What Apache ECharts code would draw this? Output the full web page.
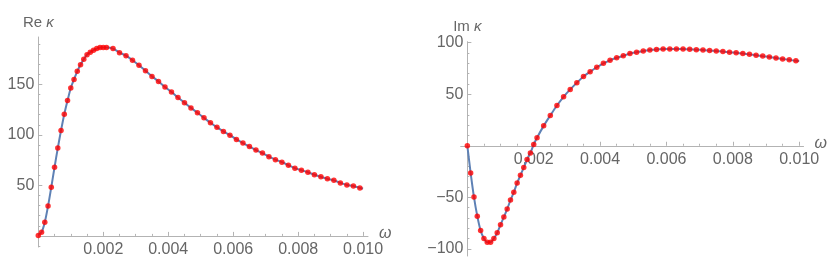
<!DOCTYPE html>
<html>
<head>
<meta charset="utf-8">
<script src="https://cdn.jsdelivr.net/npm/echarts@6/dist/echarts.min.js"></script>
<style>html,body{margin:0;padding:0;background:#fff}#c{width:830px;height:273px}</style>
</head>
<body>
<div id="c"></div>
<script>
// sample frequencies (ω) of the data points
const omega = [0,0.0001,0.0002,0.0003,0.0004,0.0005,0.0006,0.0007,0.0008,0.0009,0.0010,
  0.0011,0.0012,0.0013,0.0014,0.0015,0.0016,0.0017,0.0018,0.0019,0.0020,0.0021,
  0.0023,0.0025,0.0027,0.0029,0.0031,0.0033,0.0035,0.0037,0.0039,0.0041,0.0043,0.0045,
  0.0047,0.0049,0.0051,0.0053,0.0055,0.0057,0.0059,0.0061,0.0063,0.0065,0.0067,0.0069,
  0.0071,0.0073,0.0075,0.0077,0.0079,0.0081,0.0083,0.0085,0.0087,0.0089,0.0091,0.0093,
  0.0095,0.0097,0.0099];
const reKappa = [0.5,3.7,13.6,29.5,48.3,68,87,104.5,120.5,134,146.5,
  155,163,169.5,175,179.5,182,184,185.5,186.5,186.5,186.5,
  185.5,181.5,178.5,174,169,163.5,158,153,147.5,142.5,137,132,
  126.8,122,117,112,107.5,103.5,99.8,95.5,92,88.5,85,82,
  78.5,75.5,73,70,67,65,63,60.5,58.5,56.5,55,52.5,
  50.5,49.5,47.5];
const imKappa = [0,-26.5,-49.8,-68.3,-82.2,-90,-93.6,-93.6,-90,-84.5,-76.7,
  -69.2,-61.5,-52.7,-45.2,-36.2,-28.7,-21.2,-13.4,-7,1.2,7.8,
  19.3,29.4,39.1,47.5,54.7,61.1,67.2,71.8,76.2,80,82.9,85.4,
  87.3,89.5,90.8,92,92.9,93.5,93.8,93.9,93.9,93.8,93.6,93.3,
  92.9,92.5,91.9,91.4,90.8,90.2,89.5,88.7,87.9,87.0,86.1,85.2,
  84.3,83.4,82.5];
// curve end point (the fitted curve runs to ω = 0.01)
const curveEnd = {omega: 0.01, re: 47, im: 82.2};

// tick labels
const xMajorTicks = [0.002,0.004,0.006,0.008,0.010];
const reMajorTicks = [50,100,150];
const imMajorTicks = [-100,-50,50,100];

function minorList(from, to, step, majors) {
  const out = [];
  const n = Math.round((to - from) / step);
  for (let i = 0; i <= n; i++) {
    const v = +(from + i * step).toFixed(6);
    if (v === 0) continue;
    if (majors.some(m => Math.abs(m - v) < step / 10)) continue;
    out.push(v);
  }
  return out;
}
const xMinor = minorList(0.0005, 0.01, 0.0005, xMajorTicks);
const reMinor = minorList(-10, 190, 10, reMajorTicks);
const imMinor = minorList(-100, 100, 10, imMajorTicks);

const reDots = omega.map((w, i) => [w, reKappa[i]]);
const imDots = omega.map((w, i) => [w, imKappa[i]]);
const reCurve = reDots.concat([[curveEnd.omega, curveEnd.re]]);
const imCurve = imDots.concat([[curveEnd.omega, curveEnd.im]]);

const FONT = 'Liberation Sans';
const AX = '#b3b3b3';
const LBL = '#666666';

const grids = [
  {left: 38.3, top: 37, width: 329.7, height: 210, xMin: 0, xMax: 0.01015, yMin: -11, yMax: 197},
  {left: 460.7, top: 41.7, width: 344.3, height: 214.3, xMin: -0.0002, xMax: 0.01013, yMin: -107, yMax: 101}
];
// place axes through the origin via offsets (pixel distance from grid edge to the zero line)
function xOffset(g) { return -(g.height * (0 - g.yMin) / (g.yMax - g.yMin)); }
function yOffset(g) { return -(g.width * (0 - g.xMin) / (g.xMax - g.xMin)); }

function xAxes(gi) {
  const g = grids[gi];
  const base = {
    type: 'value', gridIndex: gi, min: g.xMin, max: g.xMax, position: 'bottom', offset: xOffset(g),
    splitLine: {show: false},
    axisLine: {show: true, onZero: false, lineStyle: {color: AX, width: 1}},
  };
  return [
    Object.assign({}, base, {
      name: 'ω', nameLocation: 'end', nameGap: 11,
      nameTextStyle: {fontFamily: FONT, fontSize: 16, fontStyle: 'italic', color: LBL, verticalAlign: 'bottom', padding: [0,0,-6,0]},
      axisTick: {show: true, inside: true, length: 4, customValues: xMajorTicks, lineStyle: {color: AX}},
      axisLabel: {show: true, customValues: xMajorTicks, margin: 6, color: LBL, fontFamily: FONT, fontSize: 16,
        formatter: v => v.toFixed(3)},
    }),
    Object.assign({}, base, {
      axisLine: {show: false, onZero: false},
      axisTick: {show: true, inside: true, length: 2, customValues: xMinor, lineStyle: {color: AX}},
      axisLabel: {show: false},
    })
  ];
}
function yAxes(gi, majors, minors, title) {
  const g = grids[gi];
  const base = {
    type: 'value', gridIndex: gi, min: g.yMin, max: g.yMax, position: 'left', offset: yOffset(g),
    splitLine: {show: false},
    axisLine: {show: true, onZero: false, lineStyle: {color: AX, width: 1}},
  };
  return [
    Object.assign({}, base, {
      name: title, nameLocation: 'end', nameGap: 7,
      nameTextStyle: {fontFamily: FONT, fontSize: 15, color: LBL, align: 'center',
        rich: {r: {fontFamily: FONT, fontSize: 15, color: LBL}, i: {fontFamily: FONT, fontSize: 15, color: LBL, fontStyle: 'italic'}}},
      axisTick: {show: true, inside: true, length: 4, customValues: majors, lineStyle: {color: AX}},
      axisLabel: {show: true, customValues: majors, margin: 4, color: LBL, fontFamily: FONT, fontSize: 16,
        formatter: v => String(v).replace('-', '\u2212')},
    }),
    Object.assign({}, base, {
      axisLine: {show: false, onZero: false},
      axisTick: {show: true, inside: true, length: 2, customValues: minors, lineStyle: {color: AX}},
      axisLabel: {show: false},
    })
  ];
}

const chart = echarts.init(document.getElementById('c'), null, {renderer: 'canvas'});
chart.setOption({
  animation: false,
  backgroundColor: '#ffffff',
  grid: grids.map(g => ({left: g.left, top: g.top, width: g.width, height: g.height})),
  xAxis: [].concat(xAxes(0), xAxes(1)),
  yAxis: [].concat(
    yAxes(0, reMajorTicks, reMinor, '{r|Re }{i|κ}'),
    yAxes(1, imMajorTicks, imMinor, '{r|Im }{i|κ}')
  ),
  series: [
    {type: 'line', xAxisIndex: 0, yAxisIndex: 0, data: reCurve, smooth: 0.3, showSymbol: false,
      lineStyle: {color: '#5e81b5', width: 2}, z: 2},
    {type: 'scatter', xAxisIndex: 0, yAxisIndex: 0, data: reDots, symbol: 'circle', symbolSize: 5.5,
      itemStyle: {color: '#ff0000'}, z: 3},
    {type: 'line', xAxisIndex: 2, yAxisIndex: 2, data: imCurve, smooth: 0.3, showSymbol: false,
      lineStyle: {color: '#5e81b5', width: 2}, z: 2},
    {type: 'scatter', xAxisIndex: 2, yAxisIndex: 2, data: imDots, symbol: 'circle', symbolSize: 5.5,
      itemStyle: {color: '#ff0000'}, z: 3}
  ]
});
</script>
</body>
</html>
